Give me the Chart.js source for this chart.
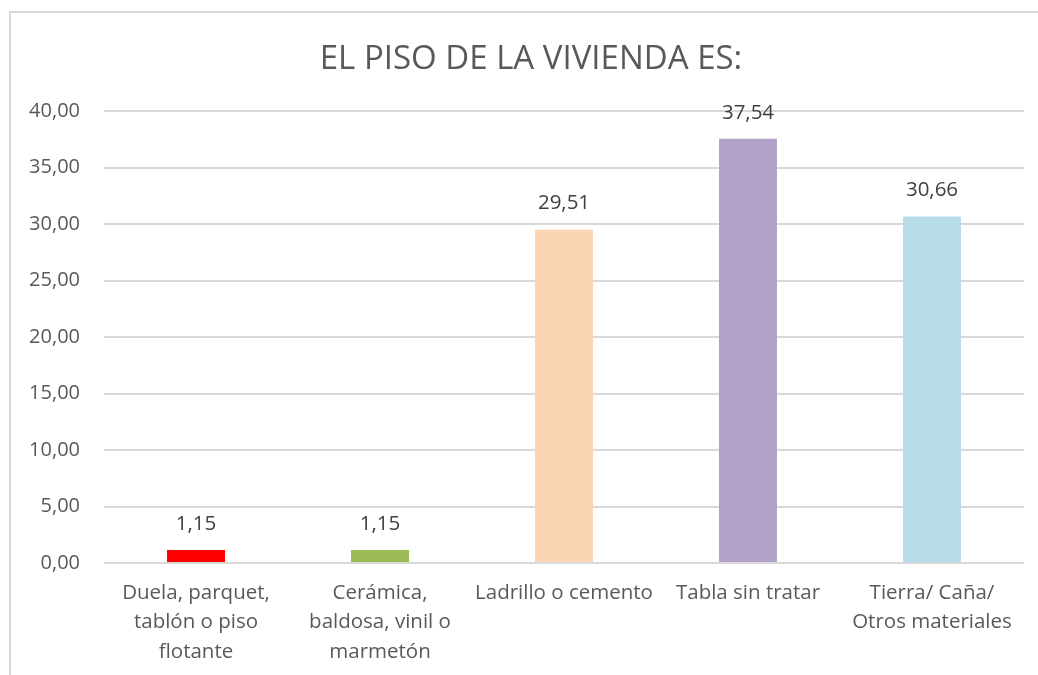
<!DOCTYPE html>
<html>
<head>
<meta charset="utf-8">
<script src="https://cdn.jsdelivr.net/npm/chart.js@4/dist/chart.umd.min.js"></script>
<style>
html,body{margin:0;padding:0;background:#fff;overflow:hidden;}
#wrap{position:relative;width:1038px;height:675px;}
#frame{position:absolute;left:9px;top:11px;width:1100px;height:800px;border:2px solid #D9D9D9;box-sizing:border-box;}
canvas{position:absolute;left:0;top:0;}
</style>
</head>
<body>
<div id="wrap">
<div id="frame"></div>
<canvas id="c" width="1038" height="675"></canvas>
</div>
<script>
const title = "EL PISO DE LA VIVIENDA ES:";
const categories = [
  ["Duela, parquet,", "tablón o piso", "flotante"],
  ["Cerámica,", "baldosa, vinil o", "marmetón"],
  "Ladrillo o cemento",
  "Tabla sin tratar",
  ["Tierra/ Caña/", "Otros materiales"]
];
const values = [1.15, 1.15, 29.51, 37.54, 30.66];
const barColors = ["#FF0000", "#9BBB59", "#FCD5B5", "#B3A2C7", "#B7DEE8"];
const yMin = 0, yMax = 40, yStep = 5;

const fmt = v => v.toFixed(2).replace('.', ',');
const FONT = "'Open Sans', sans-serif";

const valueLabels = {
  id: 'valueLabels',
  afterDatasetsDraw(chart) {
    const ctx = chart.ctx;
    const meta = chart.getDatasetMeta(0);
    ctx.save();
    ctx.font = "20.5px " + FONT;
    ctx.fillStyle = "#404040";
    ctx.textAlign = "center";
    ctx.textBaseline = "middle";
    meta.data.forEach((bar, i) => {
      ctx.fillText(fmt(values[i]), bar.x, bar.y - 26);
    });
    ctx.restore();
  }
};

const chartTitle = {
  id: 'chartTitle',
  afterDraw(chart) {
    const ctx = chart.ctx;
    ctx.save();
    ctx.font = "33px " + FONT;
    ctx.fillStyle = "#595959";
    ctx.textAlign = "center";
    ctx.textBaseline = "middle";
    ctx.fillText(title, 531, 60);
    ctx.restore();
  }
};

new Chart(document.getElementById('c'), {
  type: 'bar',
  data: {
    labels: categories,
    datasets: [{
      data: values,
      backgroundColor: barColors,
      borderWidth: 0,
      barPercentage: 0.63,
      categoryPercentage: 0.5
    }]
  },
  options: {
    responsive: false,
    animation: false,
    devicePixelRatio: 1,
    layout: { padding: { top: 111, left: 0, right: 14, bottom: 0 } },
    plugins: {
      legend: { display: false },
      tooltip: { enabled: false },
      title: { display: false }
    },
    scales: {
      x: {
        grid: { display: false, drawTicks: false },
        border: { display: false },
        ticks: {
          color: "#595959",
          font: { family: FONT, size: 20.5, lineHeight: 1.44 },
          padding: 15,
          maxRotation: 0,
          autoSkip: false
        },
        afterFit(s) { s.height = 112; }
      },
      y: {
        min: yMin, max: yMax,
        grid: { color: "#D9D9D9", lineWidth: 2, drawTicks: false },
        border: { display: false },
        ticks: {
          stepSize: yStep,
          color: "#595959",
          font: { family: FONT, size: 20 },
          padding: 24,
          callback: v => fmt(v)
        },
        afterFit(s) { s.width = 104; }
      }
    }
  },
  plugins: [valueLabels, chartTitle]
});
</script>
</body>
</html>
